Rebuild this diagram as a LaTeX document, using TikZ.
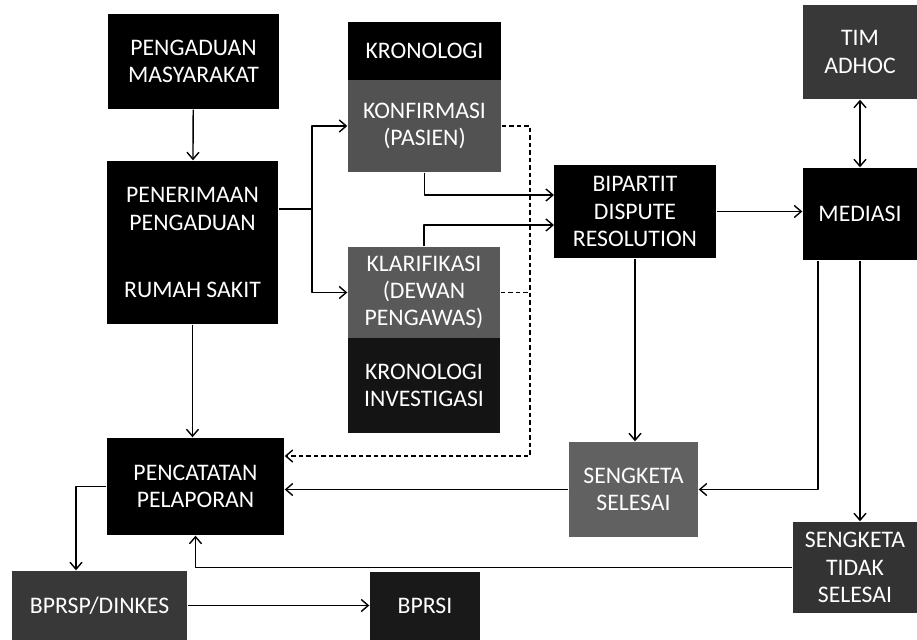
\documentclass[tikz,border=0pt]{standalone}
\usepackage{fontspec}
\setmainfont{Carlito}
\usetikzlibrary{arrows.meta}
\begin{document}
\begin{tikzpicture}[x=0.2mm, y=-0.2mm, line join=round, line width=0.8pt,
			>={Straight Barb[length=1.4mm,width=2.4mm]},
			kotak/.style={fill=#1, text=white, inner sep=1pt, align=center,
				font=\fontsize{13.5}{15.5}\selectfont},
			kotak/.default=black,
			ukuran/.style 2 args={minimum width=#1*0.2mm, minimum height=#2*0.2mm},
			putus/.style={dash pattern=on 0.9mm off 0.6mm}]
			\useasboundingbox (0,0) rectangle (917,640);
			% kotak-kotak
			\node[kotak, ukuran={171}{95}] (adu) at (193.5,61.5) {PENGADUAN\\MASYARAKAT};
			\node[kotak, ukuran={171}{163}] (terima) at (192.5,242.5) {PENERIMAAN\\PENGADUAN\\[8mm]RUMAH SAKIT};
			\node[kotak, ukuran={153}{58}] (kron1) at (424.5,51) {KRONOLOGI};
			\node[kotak=black!68, ukuran={153}{92}] (konf) at (424.5,126) {KONFIRMASI\\(PASIEN)};
			\node[kotak=black!65, ukuran={152}{91}] (klar) at (424,292.5) {KLARIFIKASI\\(DEWAN\\PENGAWAS)};
			\node[kotak=black!92, ukuran={152}{95}] (kron2) at (424,385.5) {KRONOLOGI\\INVESTIGASI};
			\node[kotak, ukuran={162}{93}] (bip) at (635,211.5) {BIPARTIT\\DISPUTE\\RESOLUTION};
			\node[kotak=black!78, ukuran={114}{94}] (tim) at (860,52) {TIM\\ADHOC};
			\node[kotak, ukuran={114}{92}] (med) at (860,214) {MEDIASI};
			\node[kotak, ukuran={177}{97}] (catat) at (195.5,486.5) {PENCATATAN\\PELAPORAN};
			\node[kotak=black!62, ukuran={129}{95}] (selesai) at (633.5,489.5) {SENGKETA\\SELESAI};
			\node[kotak=black!80, ukuran={124}{91}] (tidak) at (855,567.5) {SENGKETA\\TIDAK\\SELESAI};
			\node[kotak=black!78, ukuran={175}{69}] (bprsp) at (99.5,605.5) {BPRSP/DINKES};
			\node[kotak=black!90, ukuran={110}{68}] (bprsi) at (425,606) {BPRSI};
			% titik bantu
			\coordinate (cabang) at (312,209);
			\coordinate (pojok) at (530,456);
			\coordinate (b1) at (554,195);
			\coordinate (b2) at (554,225);
			\coordinate (m1) at (818,489);
			\coordinate (k1) at (76,0);
			% panah
			\draw[->] (adu) -- (terima);
			\draw (terima.east |- cabang) -- (cabang);
			\draw[->] (cabang) |- (konf.west);
			\draw[->] (cabang) |- (klar.west);
			\draw[->] (konf.south) |- (b1);
			\draw[->] (klar.north) |- (b2);
			\draw[putus,->] (konf.east) -| (pojok) -- (catat.east |- pojok);
			\draw[putus] (klar.east) -- (klar.east -| pojok);
			\draw[->] (bip.east) -- (bip.east -| med.west);
			\draw[<->] (med) -- (tim);
			\draw[->] (bip.south) -- (bip.south |- selesai.north);
			\draw[->] (m1 |- med.south) |- (selesai.east);
			\draw[->] (med.south) -- (med.south |- tidak.north);
			\draw[->] (selesai.west) -- (selesai.west -| catat.east);
			\draw[->] (tidak.west) -| (catat.south);
			\draw[->] (terima.south) -- (terima.south |- catat.north);
			\draw[->] (catat.west) -| (bprsp.north -| k1);
			\draw[->] (bprsp.east) -- (bprsp.east -| bprsi.west);
		\end{tikzpicture}
\end{document}
